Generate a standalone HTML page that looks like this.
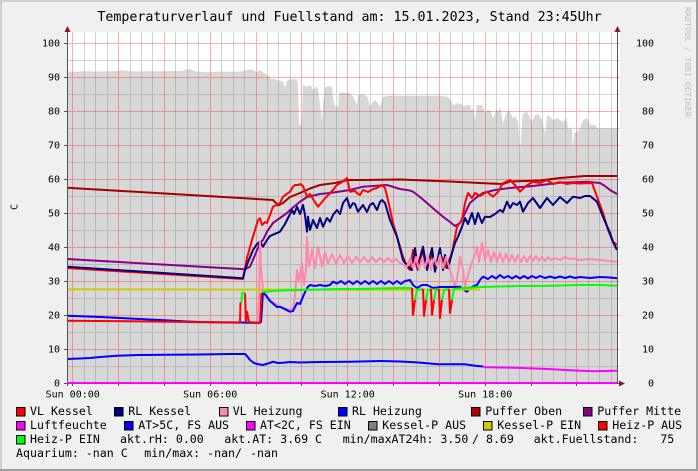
<!DOCTYPE html>
<html><head><meta charset="utf-8"><style>
html,body{margin:0;padding:0;background:#f0f0f0;}
svg{display:block;}
text{font-family:"DejaVu Sans Mono","Liberation Mono",monospace;fill:#000;}
.ax{font-size:10px;}
.lg{font-size:11.6px;white-space:pre;}
</style></head><body>
<svg width="698" height="471" viewBox="0 0 698 471" xmlns="http://www.w3.org/2000/svg">
<!-- background and border -->
<rect x="0" y="0" width="698" height="471" fill="#f0f0f0"/>
<rect x="0" y="0" width="698" height="2" fill="#cfcfcf"/>
<rect x="0" y="0" width="2" height="471" fill="#cfcfcf"/>
<rect x="0" y="469" width="698" height="2" fill="#9e9e9e"/>
<rect x="696" y="0" width="2" height="471" fill="#9e9e9e"/>

<!-- title -->
<text x="349.5" y="21" text-anchor="middle" style="font-size:13.3px">Temperaturverlauf und Fuellstand am: 15.01.2023, Stand 23:45Uhr</text>

<!-- plot canvas -->
<rect x="67" y="32" width="553" height="351" fill="#ffffff"/>

<!-- Fuellstand area -->
<path fill="#d7d7d7" d="M67,383 L67,71.5 75,71.8 85,71.3 95,71.6 105,71.4 115,71 123,70.3 130,71.3 140,71.5 150,71.2 160,71.4 170,71 180,71.2 190,69 195,71.5 207,72.3 220,71.8 235,71.8 240,71.7 245,70.5 250,69.5 254,70.5 257,72.3 260,70 263,72.5 267,74.5 270,77.5 272,80 273,78.3 277,80 280,81 283,81 285,87.7 287,81 290,79.3 297,79.3 298,88 299,125 301,125 302,115 303,85 307,86.7 310,85 313,90 316,86.7 318,88.3 320,105 322,120 323,105 325,87.3 330,86 332,86.7 333,98.3 335,106.7 338,106.7 339,93.3 342,92.3 350,93.3 353,96.7 357,105 358,95 363,94.3 367,96.7 369,102 370,106.7 373,101.7 375,100 377,101.7 380,106.7 383,96.7 390,95.7 407,95.7 440,95.7 447,96.7 450,99 453,105 457,103.3 462,104 463,106.7 467,105 470,105 472,110 473,108 475,120 477,105 482,105 485,111.7 488,110 491,111 493,118.3 497,108.3 498,113 500,106.7 502,116.7 503,123.3 507,111.7 510,112 513,118.3 515,116 518,121.7 520,151.7 522,123.3 523,113.3 527,111.7 529,116 532,121.7 535,115 538,114 542,120 545,133.3 547,116.7 548,115 553,120 557,118 560,120 563,121.7 567,118.3 568,130 570,127 572,130 573,151.7 574,133.3 577,131.7 580,128.3 583,120 587,118.3 590,125 595,125 598,128.3 617,128.3 L617,383 Z"/>

<!-- minor grid -->
<path stroke="rgba(128,128,128,0.35)" stroke-width="1" fill="none" d="
M84.5,32V383 M95.5,32V383 M107.5,32V383 M130.5,32V383 M141.5,32V383 M152.5,32V383 M175.5,32V383 M187.5,32V383 M198.5,32V383 M221.5,32V383 M233.5,32V383 M244.5,32V383 M267.5,32V383 M278.5,32V383 M290.5,32V383 M313.5,32V383 M324.5,32V383 M336.5,32V383 M359.5,32V383 M370.5,32V383 M382.5,32V383 M405.5,32V383 M416.5,32V383 M427.5,32V383 M450.5,32V383 M462.5,32V383 M473.5,32V383 M496.5,32V383 M508.5,32V383 M519.5,32V383 M542.5,32V383 M553.5,32V383 M565.5,32V383 M588.5,32V383 M599.5,32V383 M611.5,32V383
M67,366.5H620 M67,332.5H620 M67,298.5H620 M67,264.5H620 M67,230.5H620 M67,196.5H620 M67,162.5H620 M67,128.5H620 M67,94.5H620 M67,60.5H620"/>
<!-- major grid -->
<path stroke="rgba(255,0,0,0.32)" stroke-width="1" fill="none" d="
M72.5,32V383 M118.5,32V383 M164.5,32V383 M210.5,32V383 M256.5,32V383 M301.5,32V383 M347.5,32V383 M393.5,32V383 M439.5,32V383 M485.5,32V383 M531.5,32V383 M576.5,32V383
M67,349.5H620 M67,315.5H620 M67,281.5H620 M67,247.5H620 M67,213.5H620 M67,179.5H620 M67,145.5H620 M67,111.5H620 M67,77.5H620 M67,43.5H620"/>

<g fill="none" stroke-width="2" stroke-linejoin="round" stroke-linecap="butt">
<!-- Puffer Oben -->
<polyline stroke="#a00000" points="67,187.7 273,200 276,203 278,205.5 283,203 290,197 300,193 310,188.5 320,185 335,183 348,180 360,180 400,179.5 450,181.5 490,183.5 503,184 510,181.5 540,180.5 560,178 585,176 617,176"/>
<!-- Puffer Mitte -->
<polyline stroke="#880088" points="67,259 245,269.3 250,266.7 255,255 260,243 263,240 267,231.7 273,223 280,218 287,213 290,210 300,201.7 307,197 320,194 330,193 350,190 363,186.7 387,185 400,189 410,190.5 413,191.7 420,197 427,203 435,210 443,216.7 450,222 455,226 460,223 465,213 470,203 477,197 483,193 495,190 510,188 533,186 560,182.7 587,181.7 600,183 605,186 610,190 617,194"/>
<!-- VL Kessel -->
<polyline stroke="#ff0000" points="67,268 243,279 245,268 247,258 252,240 255,230 258,220 260,218.3 262,225 265,222 267,223 270,215 273,206.7 280,203 283,196.7 290,191.7 293,186.7 295,185 298,185 300,184 303,186 307,196.7 310,194 313,199 318,206.7 322,202 325,198.3 330,193.3 337,185 342,182 345,180 347,178 350,191.7 355,191 358,194 360,195 363,190 368,192 373,189 377,188 382,185 385,188 388,200 393,223 398,240 403,256.7 407,266.7 410,270 413,250 417,268 422,250 427,268 432,255 436,268 441,255 446,268 452,253 457,226.7 462,220 465,203 468,193 472,198 475,193 480,196 487,191.7 493,196.7 498,192 503,183 510,180 515,185 520,191.7 526,186 533,181.7 540,183 547,180 553,184 560,182 567,184 573,183 580,183.5 587,183.3 592,183 597,196.7 603,213 608,230 613,241.7 617,245"/>
<!-- RL Kessel -->
<polyline stroke="#000080" points="67,266.7 243,278.3 245,270 248,262 253,250 257,244 260,241.7 263,246.7 267,240 270,236 280,231.7 285,224 290,214 292,210 294,214 297,206.7 300,214 303,205 305,215 307,231.7 308,216.7 310,230 313,220 317,228 320,218 323,226.7 327,218 330,221.7 333,215 337,210 340,214 343,203 347,198 350,208 353,203 355,204 358,211.7 363,205 367,212 370,205 373,203 377,210 380,202 382,200 385,203 390,220 397,236.7 403,260 408,266.7 412,270 415,248 418,270 423,246.7 427,270 432,248 435,271.7 440,248 443,270 445,255 448,268 452,253 455,243 458,236.7 462,226.7 465,218 468,224 472,213 475,224 478,213 482,223 485,216.7 490,217 495,214 500,210 503,212 507,201.7 510,208 513,203 517,205 520,201.7 523,211.7 528,203 533,198 540,208 547,198 553,205 560,197 567,203 573,196.7 580,198 585,196 590,196 597,201.7 603,216.7 610,233 613,242 617,250"/>
<!-- VL Heizung -->
<polyline stroke="#ff88aa" points="257,322 259,300 260,241 261,270 263,290 266,297 270,300 280,306.7 290,310 293,308 295,296.7 297,270 299,282 302,263 304,285 306,270 307,236.7 309,266.7 312,250 315,268 318,246.7 322,266.7 325,252 328,264 332,254 336,264 340,255 344,263 348,256 352,263 356,257 360,262 364,257 368,262 372,257 376,262 380,258 384,262 388,258 392,262 396,259 400,263 404,265 407,266.7 410,258 413,268 416,257 419,270 422,258 425,268 428,256 431,270 434,258 437,266 440,255 443,268 446,257 450,270 455,286.7 458,273 460,256.7 463,270 465,286.7 468,275 472,262 475,255 477,246.7 479,262 482,243 485,260 488,250 491,262 494,252 497,262 500,253 503,262 506,254 509,262 512,255 515,262 518,255 521,262 524,256 527,262 530,256 533,261 536,256 539,261 542,257 545,261 548,257 551,260 555,258 560,260 565,257 570,259 573,258.3 580,260 590,259 600,260 610,261 617,261.7"/>
<!-- RL Heizung -->
<polyline stroke="#0000ff" points="67,315.7 100,317 130,318.5 160,320 187,321.5 200,322 240,322.5 258,323 261,322 263,291.7 267,296.7 270,301 277,307 280,306.7 290,311.7 293,311 297,303 300,304 303,296.7 306,290 308,286.7 310,285 315,286 320,285 325,286 330,285 333,281.7 337,283.5 341,281 345,284 349,281 353,284 357,281 361,284 365,281 369,284 373,281 377,284 381,281 385,284 389,281 393,284 397,281 401,284 405,281 410,280 413,285 417,288 422,285 427,285 433,288 440,287 450,287 460,286.7 464,290 467,291.7 470,288 474,286 477,285 480,280 483,276.7 488,279 492,276 496,278.5 500,275 504,278 508,276 512,278.5 516,276 520,278.5 524,276 528,278.5 532,276 536,278 540,276 545,278 550,276.5 555,278 560,276.5 565,278 570,276.5 575,278 580,277 590,278 600,277 610,277.5 617,278.3"/>
<!-- Kessel-P EIN (yellow) -->
<polyline stroke="#cccc00" points="67,289.3 200,289.5 265,289.6 400,289.8 480,289.5"/>
<!-- Heiz-P AUS (red) -->
<polyline stroke="#ff0000" points="67,320.7 150,321.5 240,322.7 240.5,303 241.5,303"/>
<polyline stroke="#ff0000" points="245,293 246,322 247,311.7 249,322 260,323 261.5,293"/>
<!-- Heiz-P EIN (green) -->
<polyline stroke="#00ff00" points="241.5,303 242,293 245,293"/>
<polyline stroke="#00ff00" points="261.5,292 280,290.5 300,290 320,289.5 340,289 360,289 380,288.5 400,288 412,288"/>
<polyline stroke="#00ff00" points="415,300 417,290 423,289"/>
<polyline stroke="#00ff00" points="426,300 428,290 431,289"/>
<polyline stroke="#00ff00" points="434,300 436,290 439,289"/>
<polyline stroke="#00ff00" points="442,300 444,290 449,289"/>
<polyline stroke="#00ff00" points="452,300 454,289 470,287.5 480,287 500,286.5 520,286 540,286 560,285.5 580,285 600,285 617,285.7"/>
<polyline stroke="#ff0000" points="412,288 413,315 415,300"/>
<polyline stroke="#ff0000" points="423,289 424,316 426,300"/>
<polyline stroke="#ff0000" points="431,289 432,315 434,300"/>
<polyline stroke="#ff0000" points="439,289 440,318 442,300"/>
<polyline stroke="#ff0000" points="449,289 450,313 452,300"/>
<!-- AT -->
<polyline stroke="#0000ff" points="67,359 80,358.5 90,358 100,357 117,355.7 140,355 167,354.7 200,354.5 230,354 245,354 247,356 250,360 254,363 257,364 263,365 268,363.5 273,361.7 278,363 283,362.7 290,362 300,362.5 320,362 350,361.7 381,361 400,361.5 415,362.3 430,363.5 438,364.3 465,364.3 475,365.7 483,366.5"/>
<polyline stroke="#ff00ff" points="483,366.5 485,367.3 515,367.7 548,369 565,370 581,370.7 595,371.3 605,371 617,370.7"/>
</g>

<!-- axes -->
<g stroke="#555" stroke-width="1" fill="none">
<path d="M67.5,30V386"/>
<path d="M617.5,30V383"/>
<path d="M64,383.5H620"/>
<path d="M64,349.5H67 M64,315.5H67 M64,281.5H67 M64,247.5H67 M64,213.5H67 M64,179.5H67 M64,145.5H67 M64,111.5H67 M64,77.5H67 M64,43.5H67"/>
<path d="M72.5,383V386 M118.5,383V386 M164.5,383V386 M210.5,383V386 M256.5,383V386 M301.5,383V386 M347.5,383V386 M393.5,383V386 M439.5,383V386 M485.5,383V386 M531.5,383V386 M576.5,383V386"/>
</g>
<!-- Luftfeuchte -->
<line x1="67" y1="383" x2="617" y2="383" stroke="#ff00ff" stroke-width="2"/>
<!-- arrows -->
<polygon points="67.5,26 64.5,32 70.5,32" fill="#8b1a1a"/>
<polygon points="617.5,26 614.5,32 620.5,32" fill="#8b1a1a"/>
<polygon points="625,383.5 619,380.5 619,386.5" fill="#8b1a1a"/>

<!-- y labels left -->
<g class="ax" text-anchor="end">
<text x="60" y="386.7">0</text>
<text x="60" y="352.7">10</text>
<text x="60" y="318.7">20</text>
<text x="60" y="284.7">30</text>
<text x="60" y="250.7">40</text>
<text x="60" y="216.7">50</text>
<text x="60" y="182.7">60</text>
<text x="60" y="148.7">70</text>
<text x="60" y="114.7">80</text>
<text x="60" y="80.7">90</text>
<text x="60" y="46.7">100</text>
</g>
<!-- y labels right -->
<g class="ax" text-anchor="end">
<text x="654" y="386.7">0</text>
<text x="654" y="352.7">10</text>
<text x="654" y="318.7">20</text>
<text x="654" y="284.7">30</text>
<text x="654" y="250.7">40</text>
<text x="654" y="216.7">50</text>
<text x="654" y="182.7">60</text>
<text x="654" y="148.7">70</text>
<text x="654" y="114.7">80</text>
<text x="654" y="80.7">90</text>
<text x="654" y="46.7">100</text>
</g>
<!-- x labels -->
<g class="ax" text-anchor="middle">
<text x="72.7" y="397.7">Sun 00:00</text>
<text x="210.2" y="397.7">Sun 06:00</text>
<text x="347.7" y="397.7">Sun 12:00</text>
<text x="485.2" y="397.7">Sun 18:00</text>
</g>
<!-- vertical label -->
<text class="ax" transform="translate(17.5,207) rotate(-90)" text-anchor="middle">C</text>
<text transform="translate(685,7) rotate(90)" style="font-size:8.3px;fill:#bdbdbd">RRDTOOL / TOBI OETIKER</text>

<!-- legend -->
<g stroke="#000" stroke-width="1">
<rect x="16.5" y="407.5" width="8.5" height="8.5" fill="#ff0000"/>
<rect x="114.5" y="407.5" width="8.5" height="8.5" fill="#000080"/>
<rect x="219.5" y="407.5" width="8.5" height="8.5" fill="#ff8ab0"/>
<rect x="338.5" y="407.5" width="8.5" height="8.5" fill="#0000ff"/>
<rect x="471.5" y="407.5" width="8.5" height="8.5" fill="#aa0000"/>
<rect x="583.5" y="407.5" width="8.5" height="8.5" fill="#880088"/>
<rect x="16.5" y="421.5" width="8.5" height="8.5" fill="#ff00ff"/>
<rect x="124.5" y="421.5" width="8.5" height="8.5" fill="#0000ff"/>
<rect x="246.5" y="421.5" width="8.5" height="8.5" fill="#ff00ff"/>
<rect x="368.5" y="421.5" width="8.5" height="8.5" fill="#808080"/>
<rect x="483.5" y="421.5" width="8.5" height="8.5" fill="#cccc00"/>
<rect x="598.5" y="421.5" width="8.5" height="8.5" fill="#ff0000"/>
<rect x="16.5" y="435.5" width="8.5" height="8.5" fill="#00ff00"/>
</g>
<g class="lg">
<text x="30" y="415">VL Kessel</text>
<text x="128.3" y="415">RL Kessel</text>
<text x="232.7" y="415">VL Heizung</text>
<text x="352" y="415">RL Heizung</text>
<text x="485.3" y="415">Puffer Oben</text>
<text x="597.3" y="415">Puffer Mitte</text>
<text x="30" y="429">Luftfeuchte</text>
<text x="138.3" y="429">AT&gt;5C, FS AUS</text>
<text x="260" y="429">AT&lt;2C, FS EIN</text>
<text x="382.3" y="429">Kessel-P AUS</text>
<text x="497.3" y="429">Kessel-P EIN</text>
<text x="612.3" y="429">Heiz-P AUS</text>
<text x="30" y="443">Heiz-P EIN</text>
<text x="120" y="443">akt.rH: 0.00</text>
<text x="224.3" y="443">akt.AT: 3.69 C</text>
<text x="342.7" y="443">min/maxAT24h: 3.50</text>
<text x="472" y="443">/ 8.69</text>
<text x="533.7" y="443">akt.Fuellstand:</text>
<text x="660.3" y="443">75</text>
<text x="16" y="457">Aquarium: -nan C</text>
<text x="144.3" y="457">min/max: -nan/</text>
<text x="250" y="457">-nan</text>
</g>
</svg>
</body></html>
